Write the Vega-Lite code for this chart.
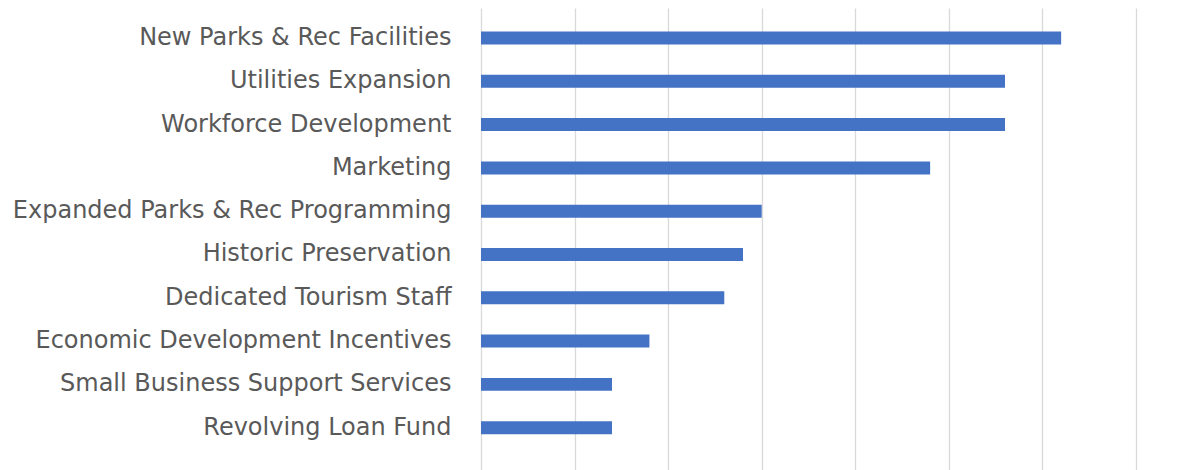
{
  "$schema": "https://vega.github.io/schema/vega-lite/v6.json",
  "autosize": "none",
  "width": 655,
  "height": 462,
  "padding": {"left": 481, "top": 8, "right": 55, "bottom": 0},
  "background": "white",
  "config": {"view": {"stroke": null}},
  "data": {"values": [
    {"item": "New Parks & Rec Facilities", "value": 31},
    {"item": "Utilities Expansion", "value": 28},
    {"item": "Workforce Development", "value": 28},
    {"item": "Marketing", "value": 24},
    {"item": "Expanded Parks & Rec Programming", "value": 15},
    {"item": "Historic Preservation", "value": 14},
    {"item": "Dedicated Tourism Staff", "value": 13},
    {"item": "Economic Development Incentives", "value": 9},
    {"item": "Small Business Support Services", "value": 7},
    {"item": "Revolving Loan Fund", "value": 7}
  ]},
  "mark": {"type": "bar", "color": "#4472C4"},
  "encoding": {
    "y": {
      "field": "item", "type": "nominal", "sort": null, "title": null,
      "scale": {"paddingInner": 0.7, "paddingOuter": 0.685, "align": 0.396},
      "axis": {"domain": false, "ticks": false, "tickSize": 0, "labelPadding": 30, "labelFont": "DejaVu Sans", "labelFontSize": 24, "labelColor": "#595959", "grid": false, "labelLimit": 0}
    },
    "x": {
      "field": "value", "type": "quantitative", "title": null,
      "scale": {"domain": [0, 35], "nice": false},
      "axis": {"values": [0, 5, 10, 15, 20, 25, 30, 35], "labels": false, "ticks": false, "domain": false, "grid": true, "gridColor": "#d9d9d9", "gridWidth": 1.3}
    }
  }
}
